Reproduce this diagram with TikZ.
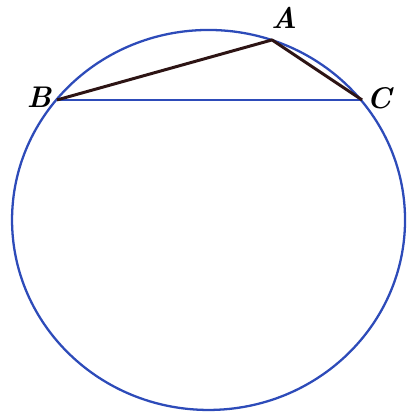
\documentclass[tikz,border=0pt]{standalone}
\usepackage{amsmath, amssymb}
\usetikzlibrary{calc}
\definecolor{circblue}{RGB}{45,75,185}
\definecolor{sidedark}{RGB}{45,20,20}

\begin{document}
\begin{tikzpicture}[scale=0.02,
    lbl/.style={font=\fontsize{17}{20}\selectfont\bfseries\itshape, inner sep=0pt}]
    \useasboundingbox (0,0) rectangle (408,415);
    \coordinate (O) at (208.5,195);
    \coordinate (A) at (272,375);
    \coordinate (B) at (57,315);
    \coordinate (C) at (362,315);
    \draw[circblue, line width=1.3pt] (O) ellipse [x radius=196.5, y radius=190];
    \draw[circblue, line width=1.3pt] (B) -- (C);
    \draw[sidedark, line width=1.7pt, line join=round] (B) -- (A) -- (C);
    \node[lbl] (labA) at (284,397) {A};
    \node[lbl] (labB) at (39,318) {B};
    \node[lbl] (labC) at (379,317) {C};
\end{tikzpicture}
\end{document}
